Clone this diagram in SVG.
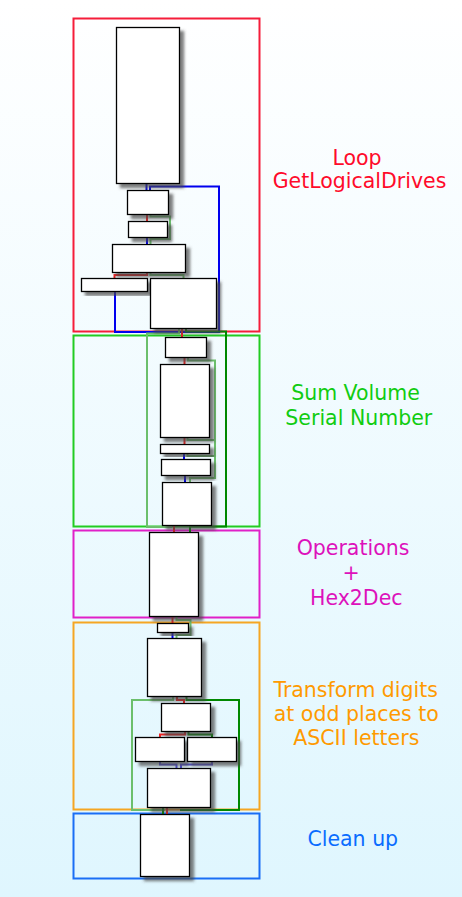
<svg xmlns="http://www.w3.org/2000/svg" width="462" height="897" viewBox="0 0 462 897">
<defs>
<linearGradient id="bg" x1="0" y1="0" x2="0" y2="1">
<stop offset="0" stop-color="#ffffff"/>
<stop offset="1" stop-color="#dff6fe"/>
</linearGradient>
<filter id="sh" x="-20%" y="-20%" width="150%" height="150%">
<feDropShadow dx="4" dy="4" stdDeviation="1.6" flood-color="#444" flood-opacity="0.7"/>
</filter>
<style>
.frame{fill:none;stroke-width:2}
.node{fill:#fff;stroke:#000;stroke-width:1.3;filter:url(#sh)}
.e{fill:none;stroke-width:2}
.r{stroke:#ee2222}
.g{stroke:#008800}
.lg{stroke:#6cbf6c}
.b{stroke:#0000ee}
.lb{stroke:#4f4fe0}
.lbl{font-family:"DejaVu Sans",sans-serif;font-size:20.5px;text-anchor:middle}
</style>
</defs>
<rect width="462" height="897" fill="url(#bg)"/>

<g id="frames">
<rect class="frame" x="73.5" y="18.5" width="186" height="313" stroke="#f51d3a"/>
<rect class="frame" x="73.5" y="335.5" width="186" height="191" stroke="#22cc22"/>
<rect class="frame" x="73.5" y="530.5" width="186" height="87" stroke="#e020c8"/>
<rect class="frame" x="73.5" y="622.5" width="186" height="187" stroke="#f5a623"/>
<rect class="frame" x="73.5" y="813.5" width="186" height="65" stroke="#1a6ef5"/>
</g>

<g id="connectors">
<path class="e b" d="M146.5,183 V190"/>
<path class="e b" d="M115,291 V332 H219 V186.5 H150 V190"/>
<path class="e r" d="M147,214 V221"/>
<path class="e lg" d="M150.5,214 V216.5 H170 V239 H150.5 V244"/>
<path class="e b" d="M147,237 V244"/>
<path class="e r" d="M147,272 V275 H114.5 V278"/>
<path class="e lg" d="M150.5,272 V275 H183.5 V278"/>
<path class="e r" d="M182,328 V337"/>
<path class="e g" d="M186,328 V331.5 H226 V526.5 H190 V532"/>
<path class="e lg" d="M179,328 V333.5 H147 V527 H172"/>
<path class="e r" d="M184.5,357 V364"/>
<path class="e lg" d="M188,357 V360.5 H215 V478 H190 V482"/>
<path class="e r" d="M184.5,437 V444"/>
<path class="e lg" d="M187.5,437 V440 H215"/>
<path class="e b" d="M184,453 V459"/>
<path class="e lg" d="M187.5,453 V456 H215"/>
<path class="e b" d="M185,475 V482"/>
<path class="e r" d="M174,525 V532"/>
<path class="e r" d="M172.5,616 V623"/>
<path class="e lg" d="M176.5,616 V620 H190.5 V635 H176.5 V638"/>
<path class="e b" d="M172.5,633 V638"/>
<path class="e r" d="M177,697 V700 H184 V703"/>
<path class="e g" d="M186.5,697 V700 H239 V810 H180"/>
<path class="e lg" d="M173,697 V700 H132 V810 H165"/>
<path class="e r" d="M185,732 V734.5 H160 V737"/>
<path class="e g" d="M188.5,732 V734.5 H212 V737"/>
<path class="e lb" d="M160,762 V764.5 H176.5 V768"/>
<path class="e lb" d="M212,762 V764.5 H181 V768"/>
<path class="e r" d="M167,808 V814"/>
<path class="e g" d="M163,808 V814"/>
</g>

<g id="n1"><rect class="node" x="116.5" y="27.5" width="63" height="156"/></g>
<g id="n2"><rect class="node" x="127.5" y="190.5" width="41" height="24"/></g>
<g id="n3"><rect class="node" x="128.5" y="221.5" width="39" height="16"/></g>
<g id="n4"><rect class="node" x="112.5" y="244.5" width="73" height="28"/></g>
<g id="n5"><rect class="node" x="81.5" y="278.5" width="66" height="13"/></g>
<g id="n6"><rect class="node" x="150.5" y="278.5" width="66" height="50"/></g>
<g id="n7"><rect class="node" x="165.5" y="337.5" width="41" height="20"/></g>
<g id="n8"><rect class="node" x="160.5" y="364.5" width="49" height="73"/></g>
<g id="n9"><rect class="node" x="160.5" y="444.5" width="49" height="9"/></g>
<g id="n10"><rect class="node" x="161.5" y="459.5" width="49" height="16"/></g>
<g id="n11"><rect class="node" x="162.5" y="482.5" width="49" height="43"/></g>
<g id="n12"><rect class="node" x="149.5" y="532.5" width="49" height="84"/></g>
<g id="n13"><rect class="node" x="157.5" y="623.5" width="31" height="9"/></g>
<g id="n14"><rect class="node" x="147.5" y="638.5" width="54" height="58"/></g>
<g id="n15"><rect class="node" x="161.5" y="703.5" width="49" height="28"/></g>
<g id="n16"><rect class="node" x="135.5" y="737.5" width="49" height="24"/></g>
<g id="n17"><rect class="node" x="187.5" y="737.5" width="49" height="24"/></g>
<g id="n18"><rect class="node" x="147.5" y="768.5" width="63" height="39"/></g>
<g id="n19"><rect class="node" x="140.5" y="814.5" width="49" height="62"/></g>

<g id="labels">
<text class="lbl" fill="#ff0a2a"><tspan x="357" y="165">Loop</tspan><tspan x="359.5" y="188">GetLogicalDrives</tspan></text>
<text class="lbl" fill="#11cc11"><tspan x="355.5" y="399.5">Sum Volume</tspan><tspan x="358.8" y="424.5">Serial Number</tspan></text>
<text class="lbl" fill="#dd11bb"><tspan x="353" y="555">Operations</tspan><tspan x="351" y="580">+</tspan><tspan x="356.3" y="605">Hex2Dec</tspan></text>
<text class="lbl" fill="#ff9a00"><tspan x="355.7" y="696.7">Transform digits</tspan><tspan x="356.3" y="721">at odd places to</tspan><tspan x="356.3" y="745">ASCII letters</tspan></text>
<text class="lbl" fill="#0a6cff" x="352.8" y="845.7">Clean up</text>
</g>
</svg>
